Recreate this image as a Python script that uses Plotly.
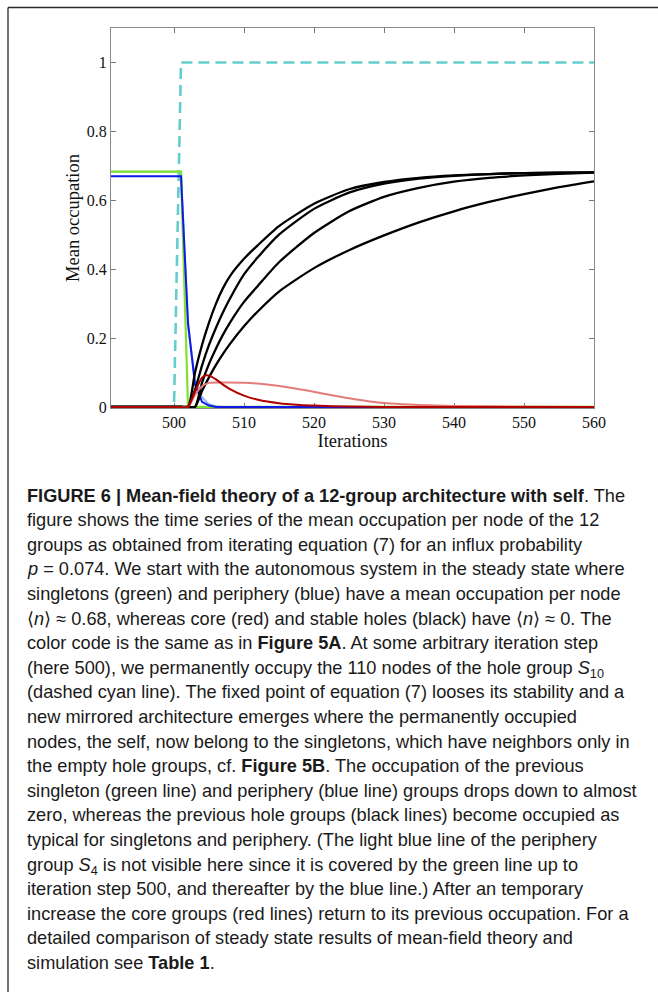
import plotly.graph_objects as go

# ---- data -----------------------------------------------------------------
# dashed cyan: hole group S10, permanently occupied from step 500 on
cyan_x = [491, 500, 501, 560]
cyan_y = [0.0, 0.0, 1.0, 1.0]

# singletons (green)
green_x = [491, 501, 502, 560]
green_y = [0.683, 0.683, 0.0, 0.0]

# periphery (blue) and periphery group S4 (light blue)
blue_x = [491, 501, 502, 503, 504, 505, 506, 560]
blue_y = [0.670, 0.670, 0.245, 0.065, 0.015, 0.004, 0.0, 0.0]
lightblue_x = [491, 501, 502, 503, 504, 505, 506, 507, 560]
lightblue_y = [0.683, 0.683, 0.235, 0.080, 0.028, 0.008, 0.002, 0.0, 0.0]

# stable holes (black), four groups
hole_x = [491, 501, 502, 503, 504, 505, 506, 507, 508, 510, 512, 515, 520,
          525, 530, 535, 540, 545, 550, 555, 560]
hole_a = [0.0, 0.0, 0.0, 0.100, 0.180, 0.245, 0.300, 0.345, 0.380, 0.430,
          0.470, 0.525, 0.590, 0.632, 0.653, 0.665, 0.672, 0.676, 0.679,
          0.680, 0.681]
hole_b = [0.0, 0.0, 0.0, 0.050, 0.120, 0.180, 0.230, 0.275, 0.315, 0.385,
          0.435, 0.500, 0.575, 0.622, 0.648, 0.663, 0.671, 0.676, 0.679,
          0.680, 0.681]
hole_c = [0.0, 0.0, 0.0, 0.0, 0.070, 0.125, 0.170, 0.210, 0.245, 0.305,
          0.352, 0.420, 0.505, 0.568, 0.610, 0.636, 0.654, 0.665, 0.672,
          0.677, 0.680]
hole_d = [0.0, 0.0, 0.0, 0.0, 0.046, 0.086, 0.122, 0.154, 0.183, 0.234,
          0.278, 0.335, 0.403, 0.455, 0.498, 0.536, 0.568, 0.595, 0.618,
          0.638, 0.655]

# core groups (red)
core_dark_x = [491, 501, 502, 503, 504, 504.6, 505, 506, 507, 508, 510, 512,
               515, 518, 520, 525, 530, 560]
core_dark_y = [0.0, 0.0, 0.0, 0.045, 0.085, 0.092, 0.091, 0.080, 0.065,
               0.052, 0.033, 0.021, 0.011, 0.006, 0.004, 0.001, 0.0, 0.0]
core_light_x = [491, 501, 502, 503, 504, 505, 507, 510, 513, 516, 519, 522,
                525, 528, 531, 535, 540, 550, 560]
core_light_y = [0.0, 0.0, 0.0, 0.035, 0.060, 0.070, 0.071, 0.070, 0.066,
                0.058, 0.048, 0.036, 0.025, 0.016, 0.010, 0.006, 0.003,
                0.001, 0.0]

x_ticks = [500, 510, 520, 530, 540, 550, 560]
y_ticks = [0, 0.2, 0.4, 0.6, 0.8, 1]
y_ticktext = ["0", "0.2", "0.4", "0.6", "0.8", "1"]

caption_lines = [
    "<b>FIGURE 6 | Mean-field theory of a 12-group architecture with self</b>. The",
    "figure shows the time series of the mean occupation per node of the 12",
    "groups as obtained from iterating equation (7) for an influx probability",
    "<i>p</i> = 0.074. We start with the autonomous system in the steady state where",
    "singletons (green) and periphery (blue) have a mean occupation per node",
    "⟨<i>n</i>⟩ ≈ 0.68, whereas core (red) and stable holes (black) have ⟨<i>n</i>⟩ ≈ 0. The",
    "color code is the same as in <b>Figure 5A</b>. At some arbitrary iteration step",
    "(here 500), we permanently occupy the 110 nodes of the hole group <i>S</i><sub>10</sub>",
    "(dashed cyan line). The fixed point of equation (7) looses its stability and a",
    "new mirrored architecture emerges where the permanently occupied",
    "nodes, the self, now belong to the singletons, which have neighbors only in",
    "the empty hole groups, cf. <b>Figure 5B</b>. The occupation of the previous",
    "singleton (green line) and periphery (blue line) groups drops down to almost",
    "zero, whereas the previous hole groups (black lines) become occupied as",
    "typical for singletons and periphery. (The light blue line of the periphery",
    "group <i>S</i><sub>4</sub> is not visible here since it is covered by the green line up to",
    "iteration step 500, and thereafter by the blue line.) After an temporary",
    "increase the core groups (red lines) return to its previous occupation. For a",
    "detailed comparison of steady state results of mean-field theory and",
    "simulation see <b>Table 1</b>.",
]

# ---- geometry ---------------------------------------------------------------
W, H = 658, 992
L, R, T, B = 111, 64, 28, 584
PW, PH = W - L - R, H - T - B


def px_x(px):
    return (px - L) / PW


def px_y(py):
    return (H - B - py) / PH


SERIF = "Liberation Serif, Times New Roman, serif"
SANS = "Liberation Sans, Arial, sans-serif"

fig = go.Figure()


def add_line(x, y, color, width=2.0, dash="solid", shape="linear"):
    fig.add_trace(go.Scatter(
        x=x, y=y, mode="lines", showlegend=False, hoverinfo="skip",
        line=dict(color=color, width=width, dash=dash, shape=shape,
                  smoothing=0.6),
    ))


# drawing order: S10, S4 (hidden under green then blue), singletons, periphery
add_line(cyan_x, cyan_y, "#66cdcd", width=2.6, dash="11px,6px")
add_line(lightblue_x, lightblue_y, "#93b8f4", width=2.0)
add_line(green_x, green_y, "#7fe22c", width=2.2)
add_line(blue_x, blue_y, "#1018e6", width=2.0)
for hy in (hole_a, hole_b, hole_c, hole_d):
    add_line(hole_x, hy, "#000000", width=2.3, shape="spline")
add_line(core_light_x, core_light_y, "#e57c7c", width=2.0, shape="spline")
add_line(core_dark_x, core_dark_y, "#b00000", width=2.0, shape="spline")

axis_common = dict(
    showline=True, linecolor="#8a8a8a", linewidth=1.2, mirror="ticks",
    ticks="inside", ticklen=5, tickwidth=1, tickcolor="#7a7a7a",
    showgrid=False, zeroline=False, layer="below traces",
    tickfont=dict(family=SERIF, size=16, color="#111111"),
)

fig.update_xaxes(
    range=[491, 560], tickvals=x_ticks,
    title=dict(text="Iterations", font=dict(family=SERIF, size=18.5,
                                             color="#111111"), standoff=0),
    **axis_common,
)
fig.update_yaxes(
    range=[-0.003, 1.1], tickvals=y_ticks, ticktext=y_ticktext,
    title=dict(text="Mean occupation", font=dict(family=SERIF, size=18.5,
                                                  color="#111111"), standoff=2),
    **axis_common,
)

# frame lines around the figure panel
fig.add_shape(type="line", xref="paper", yref="paper",
              x0=px_x(8), x1=px_x(W + 2), y0=px_y(7.5), y1=px_y(7.5),
              line=dict(color="#2a2a2a", width=1.3))
fig.add_shape(type="line", xref="paper", yref="paper",
              x0=px_x(8), x1=px_x(8), y0=px_y(7.5), y1=px_y(H + 2),
              line=dict(color="#2a2a2a", width=1.3))

# caption, one annotation per line
CAP_SIZE = 18.2
first_top = 483.5
pitch = 24.6
for i, line in enumerate(caption_lines):
    fig.add_annotation(
        xref="paper", yref="paper", x=px_x(25), y=px_y(first_top + i * pitch),
        xanchor="left", yanchor="top", showarrow=False, align="left",
        text=line, font=dict(family=SANS, size=CAP_SIZE, color="#1a1a1a"),
    )

fig.update_layout(
    width=W, height=H, margin=dict(l=L, r=R, t=T, b=B, autoexpand=False),
    paper_bgcolor="white", plot_bgcolor="white",
)

fig.write_html("out.html")
